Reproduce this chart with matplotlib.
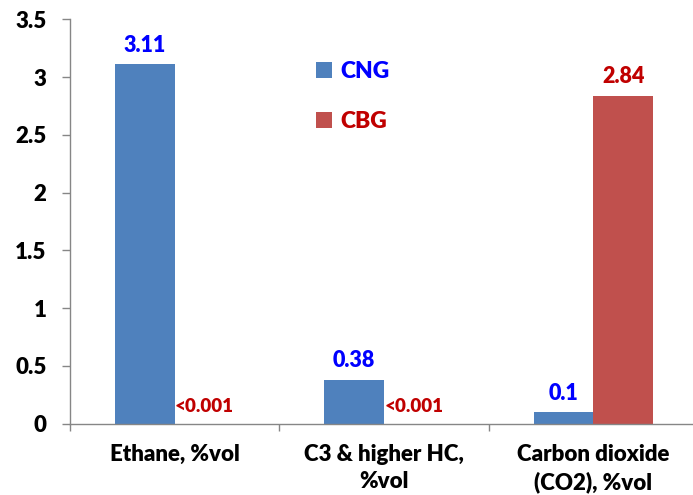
import matplotlib
matplotlib.use("Agg")
import matplotlib.pyplot as plt
import numpy as np
from matplotlib.patches import Patch

categories = ["Ethane, %vol", "C3 & higher HC,\n%vol", "Carbon dioxide\n(CO2), %vol"]
series_names = ["CNG", "CBG"]
cng_values = [3.11, 0.38, 0.1]
cbg_values = [0.0, 0.0, 2.84]
cng_labels = ["3.11", "0.38", "0.1"]
cbg_labels = ["<0.001", "<0.001", "2.84"]
y_ticks = [0, 0.5, 1, 1.5, 2, 2.5, 3, 3.5]
y_ticklabels = ["0", "0.5", "1", "1.5", "2", "2.5", "3", "3.5"]

WT = 'heavy'
plt.rcParams['font.family'] = ['Lato', 'DejaVu Sans']
plt.rcParams['font.weight'] = WT

c_cng = "#4F81BD"
c_cbg = "#C0504D"
t_blue = "#0000FF"
t_red = "#C00000"
grey = "#868686"

fig = plt.figure(figsize=(6.93, 4.95), dpi=100)
ax = fig.add_axes([70/693, (495-423.5)/495, (698-70)/693, (423.5-19.3)/495])

x = np.arange(len(categories))
w = 0.285
b1 = ax.bar(x - w/2, cng_values, w, color=c_cng, edgecolor="none")
b2 = ax.bar(x + w/2, cbg_values, w, color=c_cbg, edgecolor="none")

t1 = ax.bar_label(b1, labels=cng_labels, padding=6, color=t_blue, fontsize=15.5, fontweight=WT)
t2 = ax.bar_label(b2, labels=cbg_labels, padding=6, color=t_red, fontsize=15.5, fontweight=WT)
for t, lab in zip(t2, cbg_labels):
    if lab.startswith("<"):
        t.set_fontsize(13.5)

ax.set_xlim(-0.5, 2.5)
ax.set_ylim(0, 3.5)
ax.set_yticks(y_ticks)
ax.set_yticklabels(y_ticklabels, fontsize=16, fontweight=WT)
ax.set_xticks(x)
ax.set_xticklabels(categories, fontsize=16, fontweight=WT, linespacing=1.4)
ax.set_xticks([-0.5, 0.5, 1.5, 2.5], minor=True)
ax.tick_params(axis='x', which='major', length=0, pad=14.5)
ax.tick_params(axis='x', which='minor', length=5, direction='out', color=grey, width=1)
ax.tick_params(axis='y', length=6, direction='out', color=grey, width=1, pad=11)

for s in ['top', 'right']:
    ax.spines[s].set_visible(False)
for s in ['left', 'bottom']:
    ax.spines[s].set_color(grey)
    ax.spines[s].set_linewidth(1)

handles = [Patch(facecolor=c_cng, edgecolor='none'), Patch(facecolor=c_cbg, edgecolor='none')]
leg = fig.legend(handles, series_names, loc='upper left',
                 bbox_to_anchor=(316/693, 1 - 61/495), bbox_transform=fig.transFigure,
                 frameon=False, prop={'size': 16.5, 'weight': WT},
                 handlelength=0.7, handleheight=0.7,
                 handletextpad=0.35, labelspacing=1.25, borderpad=0, borderaxespad=0)
for txt, col in zip(leg.get_texts(), [t_blue, t_red]):
    txt.set_color(col)

fig.savefig("out.png", dpi=100)
